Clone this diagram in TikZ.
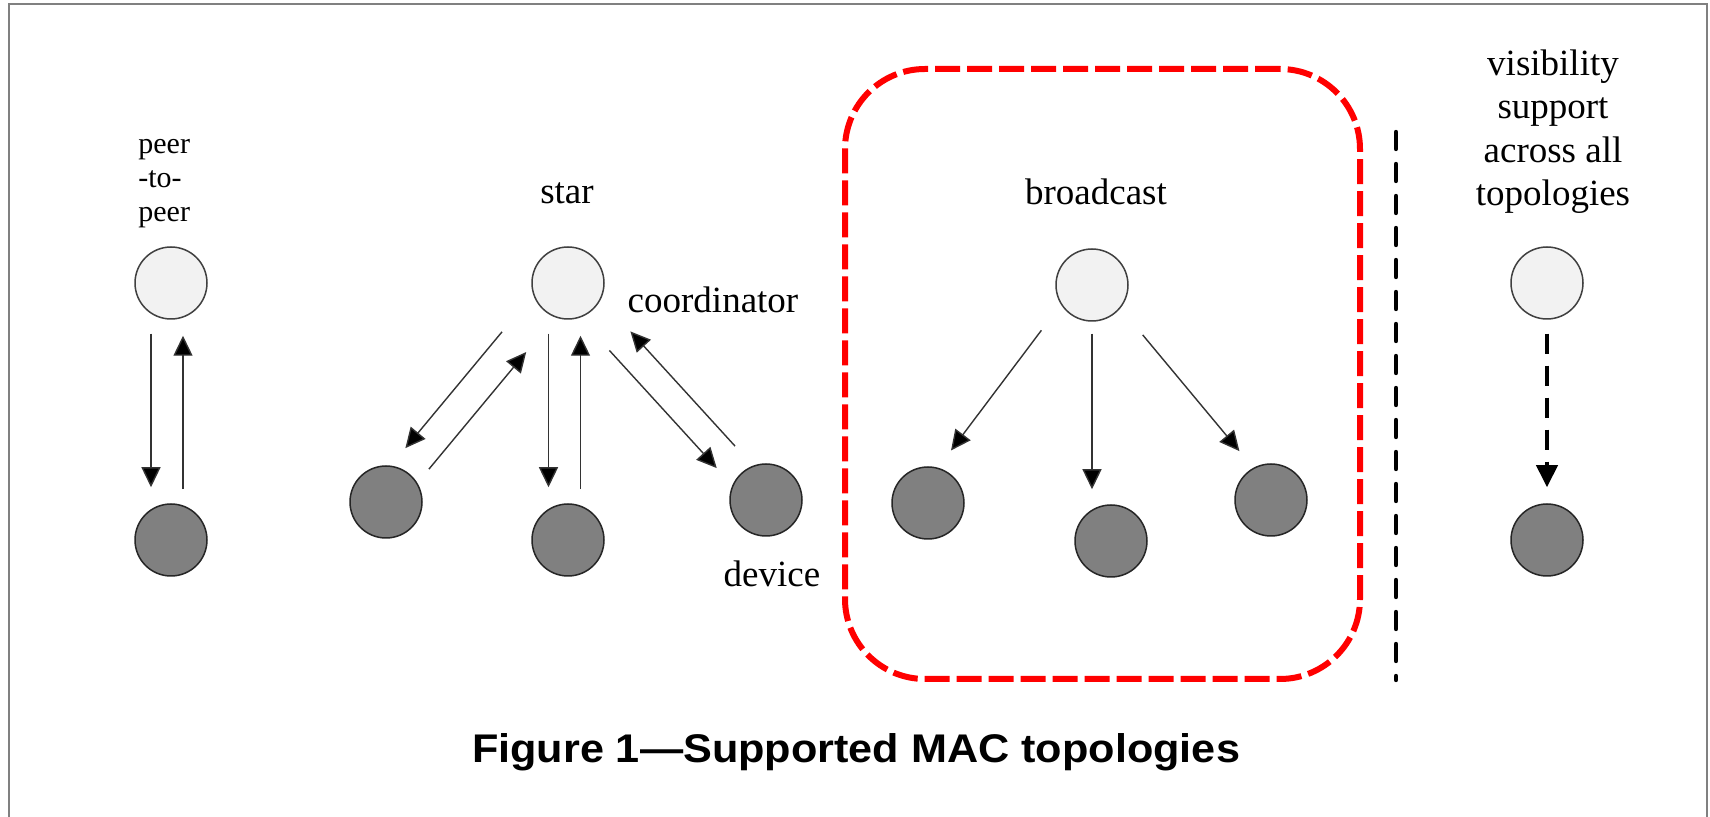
\documentclass[tikz,border=0pt]{standalone}
\usepackage{fontspec}
\usepackage{graphicx}
\setmainfont{Liberation Serif}
\newfontfamily\titlefont{Liberation Sans}
\usetikzlibrary{arrows.meta,calc}
\begin{document}
\begin{tikzpicture}[x=0.5pt,y=-0.5pt,
  coordnode/.style={circle,draw=black!75,line width=0.75pt,fill=black!5,minimum size=36pt,inner sep=0pt},
  devnode/.style={circle,draw=black!85,line width=0.75pt,fill=black!50,minimum size=36pt,inner sep=0pt},
  arr/.style={draw=black!80,line width=0.7pt,-{Triangle[length=10pt,width=9.5pt,fill=black]}},
  dasharr/.style={draw=black,line width=2pt,dash pattern=on 10pt off 6pt,-{Triangle[length=11pt,width=10.5pt]}},
  lbl/.style={font=\fontsize{18.5}{21.75}\selectfont,inner sep=0pt},
  smalllbl/.style={font=\fontsize{15}{17}\selectfont,inner sep=0pt},
  grpbox/.style={draw=red,line width=3pt,dash pattern=on 12.5pt off 3.5pt,rounded corners=40pt,inner sep=0pt},
  sepline/.style={draw=black,line width=2.2pt,line cap=round,dash pattern=on 8.5pt off 7.5pt},
  framebox/.style={draw=black!50,line width=1pt},
]
\useasboundingbox (0,0) rectangle (1710,817);
\fill[white] (0,0) rectangle (1710,817);
\draw[framebox] (9,830) -- (9,4) -- (1707,4) -- (1707,830);

% peer-to-peer
\node[smalllbl,align=left,anchor=base west] (plbl) at (138,222) {peer\\-to-\\peer};
\node[coordnode] (pa) at (171,283) {};
\node[devnode] (pb) at (171,540) {};
\draw[arr,transform canvas={shift={(-20,0)}},shorten <=7pt,shorten >=8pt] (pa) -- (pb);
\draw[arr,transform canvas={shift={(12,0)}},shorten <=7pt,shorten >=8pt] (pb) -- (pa);

% star
\node[lbl,anchor=base] (slbl) at (567,204) {star};
\node[coordnode] (sc) at (568,283) {};
\node[devnode] (sl) at (386,502) {};
\node[devnode] (sm) at (568,540) {};
\node[devnode] (sr) at (766,500) {};
\node[lbl,anchor=base] (clbl) at (713,313) {coordinator};
\node[lbl,anchor=base] (dlbl) at (772,587) {device};
\draw[arr,transform canvas={shift={(-15,-12.5)}},shorten <=21.5pt,shorten >=8.5pt] (sc) -- (sl);
\draw[arr,transform canvas={shift={(9.2,7.7)}},shorten <=8pt,shorten >=21.5pt] (sl) -- (sc);
\draw[arr,transform canvas={shift={(-19.5,0)}},shorten <=7pt,shorten >=8pt] (sc) -- (sm);
\draw[arr,transform canvas={shift={(12.5,0)}},shorten <=7pt,shorten >=8pt] (sm) -- (sc);
\draw[arr,transform canvas={shift={(-11,10)}},shorten <=20.5pt,shorten >=10pt] (sc) -- (sr);
\draw[arr,transform canvas={shift={(10,-9)}},shorten <=12pt,shorten >=20.5pt] (sr) -- (sc);

% broadcast
\node[grpbox,minimum width=257.5pt,minimum height=305pt] (grp) at (1102.5,374) {};
\node[lbl,anchor=base] (blbl) at (1096,205) {broadcast};
\node[coordnode] (bc) at (1092,285) {};
\node[devnode] (bl) at (928,503) {};
\node[devnode] (bm) at (1111,541) {};
\node[devnode] (br) at (1271,500) {};
\draw[arr,transform canvas={shift={(-10.5,-8)}},shorten <=15pt,shorten >=9.5pt] (bc) -- (bl);
\draw[arr,shorten <=6pt,shorten >=7.5pt] (bc.south) -- (bc.south |- bm.north);
\draw[arr,transform canvas={shift={(5.4,-4.5)}},shorten <=17pt,shorten >=10.5pt] (bc) -- (br);

% separator
\draw[sepline] (1396,132) -- (1396,680);

% visibility
\node[lbl,align=center,anchor=base] (vlbl) at (1553,206) {visibility\\support\\across all\\topologies};
\node[coordnode] (va) at (1547,283) {};
\node[devnode] (vb) at (1547,540) {};
\draw[dasharr,shorten <=7pt,shorten >=8pt] (va) -- (vb);

% title
\node[font=\titlefont\bfseries\fontsize{20}{24}\selectfont,anchor=base,inner sep=0pt] (title) at (856,763) {\scalebox{1.08}[1]{Figure 1—Supported MAC topologies}};
\end{tikzpicture}
\end{document}
